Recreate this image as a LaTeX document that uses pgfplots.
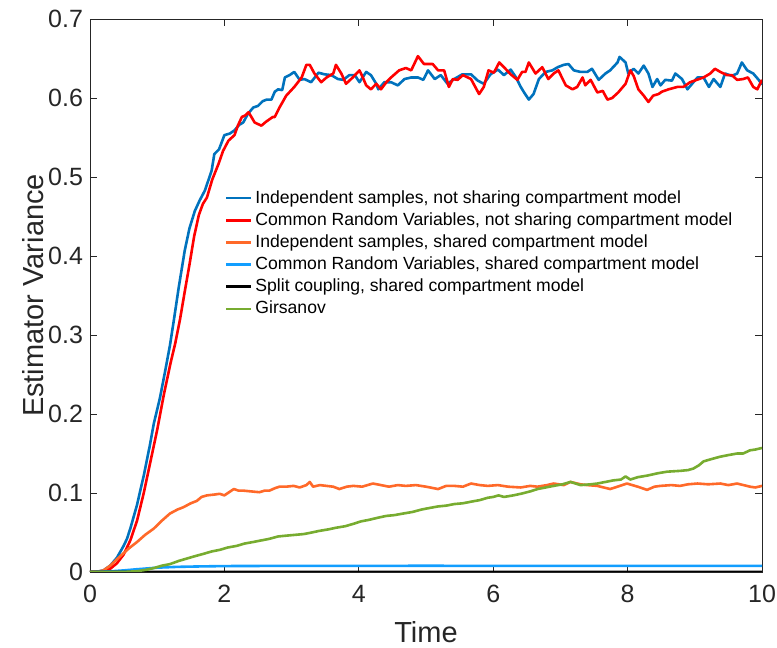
\documentclass[border=0pt]{standalone}
\usepackage{pgfplots}
\pgfplotsset{compat=1.18}
\usepackage{fontspec}
\setmainfont{Liberation Sans}

\definecolor{mblue}{rgb}{0,0.447,0.741}
\definecolor{mred}{rgb}{1,0,0}
\definecolor{morange}{rgb}{1,0.41,0.16}
\definecolor{mlblue}{rgb}{0.07,0.62,1}
\definecolor{mgreen}{rgb}{0.466,0.674,0.188}
\definecolor{maxis}{rgb}{0.15,0.15,0.15}

\begin{document}
\begin{tikzpicture}
\path[use as bounding box] (-45pt,-38pt) rectangle (343.5pt,286pt);
\begin{axis}[
  scale only axis,
  width=336pt, height=276.5pt,
  xmin=0, xmax=10, ymin=0, ymax=0.7,
  xtick={0,2,4,6,8,10},
  ytick={0,0.1,0.2,0.3,0.4,0.5,0.6,0.7},
  yticklabel style={/pgf/number format/fixed,/pgf/number format/precision=1},
  /pgf/number format/assume math mode=true,
  tick align=inside,
  major tick length=3.5pt,
  axis line style={maxis, line width=0.4pt},
  tick style={maxis, line width=0.4pt},
  ticklabel style={font=\fontsize{12.5}{14}\selectfont, text=maxis},
  xticklabel style={yshift=-3pt},
  xlabel={Time}, ylabel={Estimator Variance},
  label style={font=\fontsize{14.5}{17}\selectfont, text=maxis},
  xlabel style={at={(axis description cs:0.5,-0.1085)}, anchor=center},
  ylabel style={at={(axis description cs:-0.0848,0.5)}, anchor=center},
  every axis plot/.append style={line width=1.3pt, line join=round},
  legend style={draw=none, fill=none, at={(0.197,0.70)}, anchor=north west,
    font=\fontsize{8.8}{10.5}\selectfont, row sep=0.2pt, inner sep=1pt,
    nodes={inner sep=1.5pt}},
  legend cell align=left,
  legend image post style={line width=1.3pt},
  legend image code/.code={\draw[#1] (0cm,0cm) -- (0.44cm,0cm);},
]
\addplot[mblue] coordinates {
(0,0) (0.1,0.0003) (0.2,0.002) (0.3,0.008) (0.4,0.018) (0.5,0.033) (0.55,0.042)
(0.6,0.055) (0.7,0.085) (0.74,0.10) (0.8,0.122) (0.89,0.16) (0.95,0.188) (1.04,0.22)
(1.12,0.255) (1.19,0.287) (1.25,0.32) (1.32,0.36) (1.41,0.407) (1.48,0.435) (1.56,0.457)
(1.63,0.47) (1.71,0.483) (1.81,0.508) (1.85,0.529) (1.92,0.535) (2.0,0.553) (2.08,0.555)
(2.15,0.559) (2.22,0.566) (2.28,0.569) (2.35,0.58) (2.43,0.588) (2.5,0.59) (2.57,0.596)
(2.63,0.598) (2.7,0.598) (2.75,0.608) (2.8,0.611) (2.86,0.61) (2.9,0.626) (2.97,0.629)
(3.04,0.633) (3.12,0.623) (3.19,0.624) (3.29,0.620) (3.40,0.632) (3.49,0.630) (3.59,0.629)
(3.69,0.624) (3.77,0.623) (3.86,0.629) (3.94,0.629) (4.01,0.620) (4.11,0.633) (4.18,0.629)
(4.26,0.618) (4.29,0.611) (4.38,0.620) (4.48,0.620) (4.58,0.616) (4.68,0.624) (4.78,0.626)
(4.88,0.626) (4.96,0.623) (5.03,0.635) (5.13,0.624) (5.22,0.629) (5.32,0.618) (5.42,0.624)
(5.54,0.630) (5.67,0.630) (5.77,0.622) (5.86,0.618) (5.96,0.630) (6.07,0.636) (6.16,0.629)
(6.26,0.636) (6.34,0.626) (6.41,0.614) (6.46,0.607) (6.53,0.598) (6.60,0.605) (6.68,0.624)
(6.78,0.633) (6.88,0.635) (6.96,0.639) (7.05,0.642) (7.12,0.643) (7.20,0.635) (7.30,0.633)
(7.40,0.633) (7.47,0.637) (7.57,0.623) (7.67,0.631) (7.74,0.635) (7.85,0.645) (7.88,0.652)
(7.97,0.645) (8.01,0.631) (8.09,0.637) (8.16,0.631) (8.24,0.641) (8.31,0.631) (8.37,0.614)
(8.44,0.624) (8.49,0.616) (8.56,0.623) (8.66,0.622) (8.71,0.631) (8.81,0.624) (8.89,0.611)
(8.96,0.618) (9.04,0.626) (9.13,0.626) (9.21,0.614) (9.28,0.624) (9.38,0.614) (9.45,0.631)
(9.55,0.628) (9.63,0.631) (9.70,0.645) (9.78,0.635) (9.87,0.631) (9.95,0.623) (10,0.617)
};
\addlegendentry{Independent samples, not sharing compartment model}
\addplot[mred] coordinates {
(0,0) (0.1,0.0001) (0.2,0.001) (0.3,0.004) (0.4,0.011) (0.5,0.022) (0.6,0.04) (0.7,0.065)
(0.8,0.1) (0.9,0.14) (1.0,0.18) (1.1,0.225) (1.2,0.265) (1.27,0.29) (1.34,0.32) (1.41,0.355)
(1.48,0.389) (1.55,0.425) (1.62,0.452) (1.68,0.466) (1.74,0.474) (1.82,0.497) (1.91,0.516)
(1.98,0.533) (2.06,0.546) (2.15,0.553) (2.2,0.565) (2.26,0.576) (2.31,0.578) (2.36,0.582)
(2.45,0.569) (2.55,0.565) (2.62,0.57) (2.67,0.573) (2.72,0.576) (2.75,0.576) (2.82,0.588)
(2.92,0.603) (3.04,0.614) (3.15,0.626) (3.22,0.642) (3.27,0.642) (3.34,0.631) (3.44,0.620)
(3.52,0.626) (3.62,0.631) (3.66,0.642) (3.74,0.631) (3.81,0.618) (3.91,0.626) (4.01,0.635)
(4.06,0.626) (4.11,0.616) (4.18,0.611) (4.26,0.618) (4.33,0.611) (4.41,0.620) (4.48,0.626)
(4.60,0.635) (4.70,0.638) (4.78,0.635) (4.88,0.653) (4.97,0.643) (5.10,0.643) (5.18,0.635)
(5.27,0.635) (5.34,0.614) (5.40,0.624) (5.47,0.623) (5.55,0.629) (5.67,0.624) (5.79,0.605)
(5.86,0.614) (5.93,0.635) (6.01,0.632) (6.09,0.645) (6.16,0.639) (6.26,0.630) (6.36,0.623)
(6.43,0.633) (6.48,0.633) (6.53,0.645) (6.63,0.631) (6.73,0.639) (6.82,0.624) (6.90,0.631)
(6.97,0.635) (7.08,0.616) (7.18,0.611) (7.25,0.614) (7.33,0.626) (7.37,0.616) (7.45,0.623)
(7.55,0.607) (7.63,0.609) (7.70,0.598) (7.77,0.600) (7.86,0.607) (7.97,0.618) (8.04,0.635)
(8.09,0.628) (8.16,0.611) (8.24,0.603) (8.31,0.595) (8.38,0.603) (8.46,0.605) (8.51,0.608)
(8.61,0.611) (8.74,0.614) (8.83,0.614) (8.93,0.620) (9.03,0.623) (9.13,0.626) (9.23,0.631)
(9.30,0.637) (9.38,0.633) (9.48,0.629) (9.55,0.629) (9.63,0.623) (9.72,0.624) (9.79,0.626)
(9.87,0.614) (9.93,0.611) (10,0.623)
};
\addlegendentry{Common Random Variables, not sharing compartment model}
\addplot[morange] coordinates {
(0,0) (0.1,0.0002) (0.2,0.002) (0.3,0.008) (0.45,0.02) (0.58,0.03) (0.70,0.038) (0.82,0.047)
(0.95,0.055) (1.07,0.065) (1.19,0.074) (1.3,0.079) (1.39,0.082) (1.5,0.087) (1.59,0.09)
(1.66,0.095) (1.74,0.097) (1.85,0.098) (1.93,0.099) (2.0,0.097) (2.07,0.101) (2.14,0.105)
(2.21,0.103) (2.28,0.103) (2.4,0.102) (2.52,0.101) (2.6,0.103) (2.67,0.103) (2.75,0.106)
(2.82,0.108) (2.92,0.108) (3.03,0.109) (3.12,0.107) (3.22,0.110) (3.27,0.114) (3.32,0.108)
(3.42,0.110) (3.52,0.109) (3.62,0.108) (3.71,0.105) (3.82,0.108) (3.92,0.109) (4.05,0.108)
(4.21,0.112) (4.33,0.110) (4.45,0.108) (4.58,0.110) (4.70,0.109) (4.85,0.110) (5.0,0.108)
(5.18,0.105) (5.3,0.109) (5.42,0.109) (5.55,0.108) (5.67,0.112) (5.8,0.110) (5.92,0.109)
(6.07,0.110) (6.22,0.108) (6.41,0.107) (6.55,0.109) (6.66,0.108) (6.8,0.110) (6.90,0.112)
(7.05,0.110) (7.15,0.114) (7.3,0.111) (7.40,0.110) (7.55,0.109) (7.74,0.105) (7.85,0.108)
(7.99,0.112) (8.15,0.108) (8.29,0.104) (8.4,0.108) (8.49,0.109) (8.65,0.110) (8.78,0.109)
(8.9,0.111) (9.04,0.112) (9.2,0.111) (9.38,0.112) (9.5,0.110) (9.63,0.112) (9.82,0.108)
(9.9,0.107) (10,0.109)
};
\addlegendentry{Independent samples, shared compartment model}
\addplot[mlblue] coordinates {
(0,0) (0.3,0.0008) (0.5,0.002) (0.7,0.0035) (1.0,0.0055) (1.3,0.0065) (1.6,0.007)
(2.0,0.0075) (3,0.0078) (4,0.0077) (5,0.0079) (6,0.0077) (7,0.0078) (8,0.0077)
(9,0.0078) (10,0.0078)
};
\addlegendentry{Common Random Variables, shared compartment model}
\addplot[black] coordinates {(0,0) (2,0.0001) (10,0.0002)};
\addlegendentry{Split coupling, shared compartment model}
\addplot[mgreen] coordinates {
(0,0) (0.5,0) (0.7,0.001) (0.85,0.003) (0.95,0.005) (1.07,0.008) (1.19,0.01) (1.32,0.014)
(1.44,0.017) (1.56,0.020) (1.69,0.023) (1.81,0.026) (1.93,0.028) (2.05,0.031) (2.18,0.033)
(2.3,0.036) (2.43,0.038) (2.55,0.040) (2.67,0.042) (2.8,0.045) (2.92,0.046) (3.05,0.047)
(3.18,0.048) (3.3,0.050) (3.41,0.052) (3.55,0.054) (3.66,0.056) (3.8,0.058) (3.92,0.061)
(4.03,0.064) (4.15,0.066) (4.3,0.069) (4.41,0.071) (4.53,0.072) (4.66,0.074) (4.8,0.076)
(4.93,0.079) (5.05,0.081) (5.18,0.083) (5.3,0.084) (5.42,0.086) (5.55,0.087) (5.67,0.089)
(5.8,0.091) (5.92,0.094) (6.0,0.095) (6.08,0.097) (6.16,0.095) (6.3,0.097) (6.41,0.099)
(6.55,0.102) (6.66,0.105) (6.78,0.107) (6.90,0.109) (7.03,0.111) (7.15,0.114) (7.3,0.110)
(7.45,0.111) (7.55,0.112) (7.67,0.114) (7.79,0.116) (7.9,0.117) (7.97,0.121) (8.04,0.117)
(8.15,0.120) (8.29,0.122) (8.45,0.125) (8.59,0.127) (8.78,0.128) (8.9,0.129) (8.98,0.131)
(9.06,0.135) (9.13,0.140) (9.25,0.143) (9.38,0.146) (9.5,0.148) (9.63,0.150) (9.72,0.150)
(9.82,0.154) (9.9,0.155) (10,0.157)
};
\addlegendentry{Girsanov}
\end{axis}
\end{tikzpicture}
\end{document}
